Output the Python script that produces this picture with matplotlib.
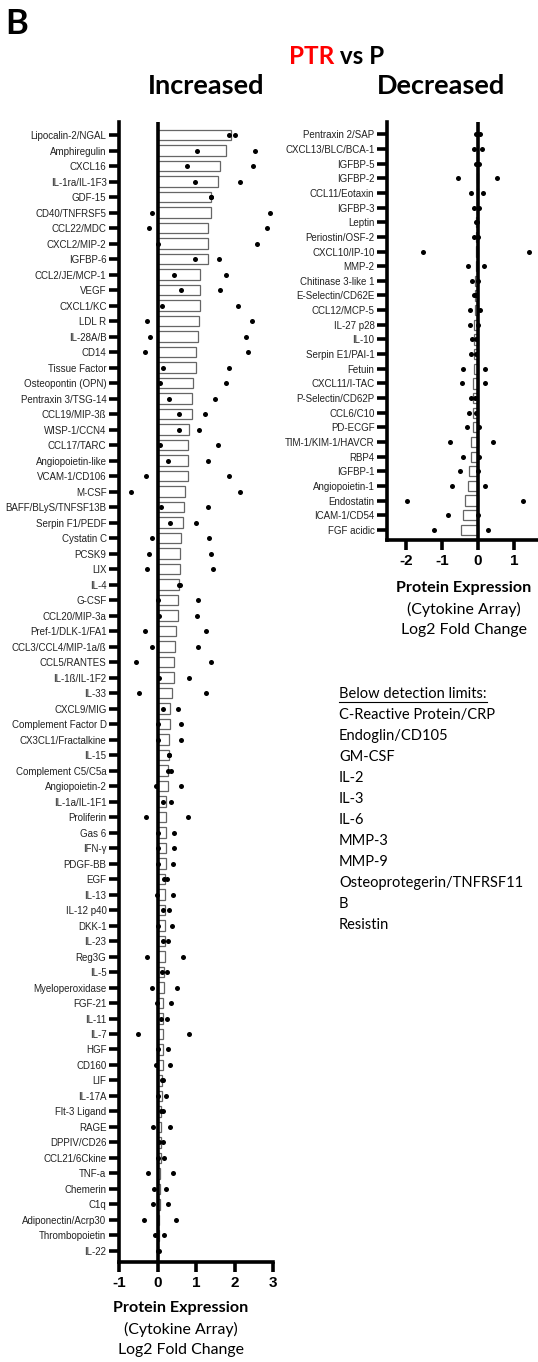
import matplotlib
matplotlib.use("Agg")
import matplotlib.pyplot as plt

# --- Increased (PTR vs P) ---
inc_labels = [
    "Lipocalin-2/NGAL", "Amphiregulin", "CXCL16", "IL-1ra/IL-1F3", "GDF-15",
    "CD40/TNFRSF5", "CCL22/MDC", "CXCL2/MIP-2", "IGFBP-6", "CCL2/JE/MCP-1",
    "VEGF", "CXCL1/KC", "LDL R", "IL-28A/B", "CD14", "Tissue Factor",
    "Osteopontin (OPN)", "Pentraxin 3/TSG-14", "CCL19/MIP-3ß", "WISP-1/CCN4",
    "CCL17/TARC", "Angiopoietin-like", "VCAM-1/CD106", "M-CSF",
    "BAFF/BLyS/TNFSF13B", "Serpin F1/PEDF", "Cystatin C", "PCSK9", "LIX",
    "IL-4", "G-CSF", "CCL20/MIP-3a", "Pref-1/DLK-1/FA1", "CCL3/CCL4/MIP-1a/ß",
    "CCL5/RANTES", "IL-1ß/IL-1F2", "IL-33", "CXCL9/MIG", "Complement Factor D",
    "CX3CL1/Fractalkine", "IL-15", "Complement C5/C5a", "Angiopoietin-2",
    "IL-1a/IL-1F1", "Proliferin", "Gas 6", "IFN-γ", "PDGF-BB", "EGF", "IL-13",
    "IL-12 p40", "DKK-1", "IL-23", "Reg3G", "IL-5", "Myeloperoxidase", "FGF-21",
    "IL-11", "IL-7", "HGF", "CD160", "LIF", "IL-17A", "Flt-3 Ligand", "RAGE",
    "DPPIV/CD26", "CCL21/6Ckine", "TNF-a", "Chemerin", "C1q",
    "Adiponectin/Acrp30", "Thrombopoietin", "IL-22",
]
inc_mean = [
    1.92, 1.78, 1.62, 1.56, 1.39, 1.38, 1.31, 1.30, 1.30, 1.11,
    1.11, 1.11, 1.09, 1.04, 1.01, 0.99, 0.92, 0.89, 0.89, 0.81,
    0.80, 0.79, 0.79, 0.72, 0.68, 0.66, 0.60, 0.58, 0.58, 0.57,
    0.53, 0.52, 0.47, 0.45, 0.43, 0.43, 0.38, 0.32, 0.32, 0.30,
    0.30, 0.28, 0.28, 0.23, 0.23, 0.22, 0.22, 0.21, 0.20, 0.20,
    0.20, 0.20, 0.19, 0.19, 0.17, 0.17, 0.15, 0.15, 0.15, 0.14,
    0.13, 0.12, 0.11, 0.10, 0.10, 0.09, 0.08, 0.07, 0.06, 0.06,
    0.05, 0.04, 0.02,
]
inc_rep1 = [
    1.86, 1.03, 0.77, 0.98, 1.38, -0.14, -0.21, 0.02, 0.98, 0.44,
    0.61, 0.12, -0.26, -0.20, -0.32, 0.13, 0.06, 0.29, 0.56, 0.56,
    0.07, 0.28, -0.30, -0.68, 0.09, 0.32, -0.14, -0.21, -0.28, 0.56,
    0.02, 0.03, -0.32, -0.13, -0.56, 0.03, -0.47, 0.14, 0.00, 0.02,
    0.30, 0.26, -0.05, 0.13, -0.30, 0.02, 0.02, 0.02, 0.16, -0.01,
    0.13, 0.02, 0.13, -0.28, 0.12, -0.15, -0.02, 0.10, -0.51, 0.00,
    -0.05, 0.11, 0.00, 0.08, -0.11, 0.05, 0.02, -0.25, -0.08, -0.11,
    -0.36, -0.07, 0.00,
]
inc_rep2 = [
    2.01, 2.54, 2.49, 2.14, 1.40, 2.91, 2.84, 2.58, 1.61, 1.79,
    1.62, 2.10, 2.45, 2.29, 2.36, 1.86, 1.79, 1.50, 1.23, 1.08,
    1.56, 1.30, 1.86, 2.14, 1.30, 1.01, 1.33, 1.38, 1.44, 0.58,
    1.06, 1.03, 1.26, 1.05, 1.40, 0.83, 1.25, 0.52, 0.61, 0.61,
    0.31, 0.35, 0.61, 0.36, 0.78, 0.44, 0.44, 0.40, 0.24, 0.40,
    0.29, 0.38, 0.26, 0.66, 0.25, 0.51, 0.34, 0.25, 0.82, 0.27,
    0.32, 0.14, 0.21, 0.13, 0.33, 0.13, 0.17, 0.40, 0.23, 0.26,
    0.47, 0.17, 0.03,
]

# --- Decreased (PTR vs P) ---
dec_labels = [
    "Pentraxin 2/SAP", "CXCL13/BLC/BCA-1", "IGFBP-5", "IGFBP-2",
    "CCL11/Eotaxin", "IGFBP-3", "Leptin", "Periostin/OSF-2", "CXCL10/IP-10",
    "MMP-2", "Chitinase 3-like 1", "E-Selectin/CD62E", "CCL12/MCP-5",
    "IL-27 p28", "IL-10", "Serpin E1/PAI-1", "Fetuin", "CXCL11/I-TAC",
    "P-Selectin/CD62P", "CCL6/C10", "PD-ECGF", "TIM-1/KIM-1/HAVCR", "RBP4",
    "IGFBP-1", "Angiopoietin-1", "Endostatin", "ICAM-1/CD54", "FGF acidic",
]
dec_mean = [
    -0.005, -0.005, -0.015, -0.02, -0.025, -0.04, -0.045, -0.055, -0.06, -0.06,
    -0.08, -0.08, -0.08, -0.10, -0.11, -0.12, -0.12, -0.13, -0.14, -0.15,
    -0.15, -0.19, -0.20, -0.25, -0.27, -0.36, -0.42, -0.47,
]
dec_rep1 = [
    -0.05, -0.11, -0.06, -0.55, -0.19, -0.11, -0.06, -0.11, -1.53, -0.29,
    -0.16, -0.11, -0.22, -0.22, -0.16, -0.20, -0.43, -0.46, -0.21, -0.24,
    -0.31, -0.79, -0.41, -0.50, -0.72, -1.97, -0.83, -1.23,
]
dec_rep2 = [
    0.05, 0.10, 0.03, 0.52, 0.14, 0.03, -0.03, 0.00, 1.41, 0.17,
    -0.01, -0.05, 0.06, -0.01, -0.07, -0.06, 0.18, 0.20, -0.08, -0.06,
    0.02, 0.42, 0.02, 0.00, 0.18, 1.24, 0.00, 0.28,
]

below_limits = [
    "C-Reactive Protein/CRP", "Endoglin/CD105", "GM-CSF", "IL-2", "IL-3",
    "IL-6", "MMP-3", "MMP-9", "Osteoprotegerin/TNFRSF11", "B", "Resistin",
]

W, H = 538, 1362
TXT = "Lato"
TICKF = "Liberation Sans"


def fx(px):
    return px / W


def fy(py):
    return 1 - py / H


def panel(rect, labels, mean, rep1, rep2, xlim, xticks, ylim):
    ax = fig.add_axes(rect)
    y = list(range(len(labels)))
    ax.barh(y, mean, height=0.7, color="white", edgecolor="#666666",
            linewidth=0.9, zorder=2)
    ax.axvline(0, color="black", lw=2.6, zorder=3)
    ax.scatter(rep1, y, s=13, color="black", zorder=4, linewidths=0)
    ax.scatter(rep2, y, s=13, color="black", zorder=4, linewidths=0)
    ax.set_xlim(*xlim)
    ax.set_ylim(*ylim)
    ax.set_yticks(y)
    ax.set_yticklabels(labels, fontsize=7, family=TICKF, color="#222222")
    ax.set_xticks(xticks)
    ax.set_xticklabels([str(t) for t in xticks], fontsize=11,
                       family=TICKF, fontweight="bold")
    ax.tick_params(axis="y", length=7, width=2.6, pad=2)
    ax.tick_params(axis="x", length=7, width=2.6, pad=3)
    for s in ["top", "right"]:
        ax.spines[s].set_visible(False)
    for s in ["left", "bottom"]:
        ax.spines[s].set_linewidth(2.6)
    ax.patch.set_alpha(0)
    return ax


fig = plt.figure(figsize=(W / 100, H / 100), dpi=100)

# left panel: x -1..3 spans px 119..273, rows at 135 + 15.5*i
panel([fx(119), fy(1262), fx(273) - fx(119), fy(122) - fy(1262)],
      inc_labels, inc_mean, inc_rep1, inc_rep2,
      (-1, 3), [-1, 0, 1, 2, 3], (72.71, -0.84))

# right panel: zero at px 478, 36 px per unit
panel([fx(387), fy(540), fx(540) - fx(387), fy(122) - fy(540)],
      dec_labels, dec_mean, dec_rep1, dec_rep2,
      (-2.53, 1.72), [-2, -1, 0, 1], (27.69, -0.84))

# headings
fig.text(fx(17), fy(24), "B", fontsize=25, fontweight="bold", family=TXT,
         ha="center", va="center")
fig.text(fx(334), fy(57), "PTR", fontsize=17.5, fontweight="bold", family=TXT,
         ha="right", va="center", color="#ff0000")
fig.text(fx(334), fy(57), " vs P", fontsize=17.5, fontweight="bold",
         family=TXT, ha="left", va="center")
fig.text(fx(206), fy(86), "Increased", fontsize=19.5, fontweight="bold",
         family=TXT, ha="center", va="center")
fig.text(fx(441), fy(86), "Decreased", fontsize=19.5, fontweight="bold",
         family=TXT, ha="center", va="center")

# axis titles
for cx, y0 in [(181, 1308), (464, 588)]:
    fig.text(fx(cx), fy(y0), "Protein Expression", fontsize=11.6,
             fontweight="bold", family=TXT, ha="center", va="center")
    fig.text(fx(cx), fy(y0 + 21), "(Cytokine Array)", fontsize=11.4,
             family=TXT, ha="center", va="center")
    fig.text(fx(cx), fy(y0 + 42), "Log2 Fold Change", fontsize=11.4,
             family=TXT, ha="center", va="center")

# below detection list
t = fig.text(fx(339), fy(694), "Below detection limits:", fontsize=10.5,
             family=TXT, ha="left", va="center")
fig.canvas.draw()
bb = t.get_window_extent()
fig.add_artist(plt.Line2D([bb.x0 / W, bb.x1 / W], [fy(702), fy(702)],
                          color="black", lw=0.8, transform=fig.transFigure))
for i, name in enumerate(below_limits):
    fig.text(fx(339), fy(715 + 21 * i), name, fontsize=10.5, family=TXT,
             ha="left", va="center")

fig.savefig("out.png", dpi=100)
